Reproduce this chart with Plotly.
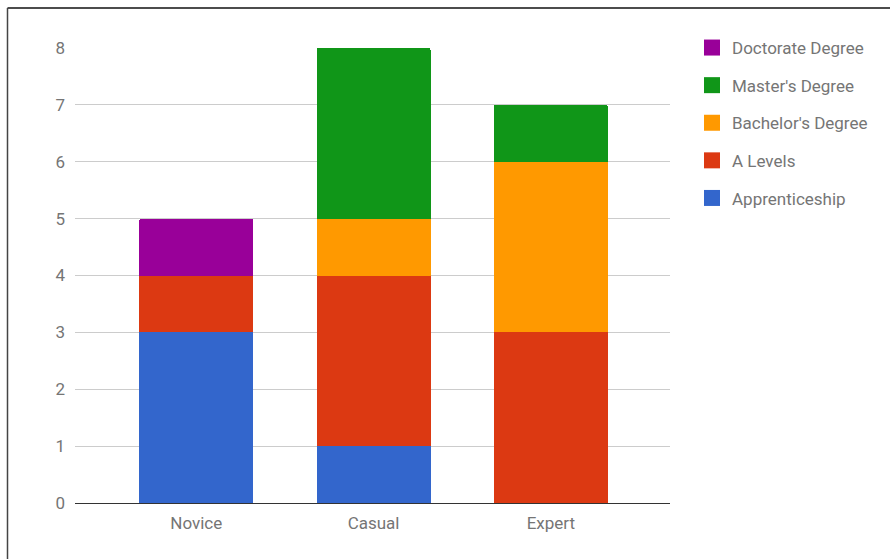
import plotly.graph_objects as go

categories = ["Novice", "Casual", "Expert"]
series_names = ["Apprenticeship", "A Levels", "Bachelor's Degree", "Master's Degree", "Doctorate Degree"]
apprenticeship = [3, 1, 0]
a_levels = [1, 3, 3]
bachelors = [0, 1, 3]
masters = [0, 3, 1]
doctorate = [1, 0, 0]
series_values = [apprenticeship, a_levels, bachelors, masters, doctorate]
colors = ["#3366cc", "#dc3912", "#ff9900", "#109618", "#990099"]
y_ticks = [0, 1, 2, 3, 4, 5, 6, 7, 8]

W, H = 890, 559
L, R, T, B = 75, 220, 48, 56
pw, ph = W - L - R, H - T - B

fig = go.Figure()
for name, vals, col in zip(series_names, series_values, colors):
    fig.add_trace(go.Bar(
        x=[0, 1, 2], y=vals, name=name,
        marker=dict(color=col, line=dict(width=0)),
        width=0.643, showlegend=False, legendgroup=name,
    ))
# legend entries with larger square swatches (top of stack listed first)
n = len(series_names)
for i, (name, col) in enumerate(zip(series_names, colors)):
    fig.add_trace(go.Scatter(
        x=[None], y=[None], mode="markers", name=name, legendgroup=name,
        marker=dict(symbol="square", size=17, color=col),
        showlegend=True, legendrank=n - i,
    ))

def px2x(px):
    return (px - L) / pw

def px2y(py):
    return (H - B - py) / ph

fig.update_layout(
    width=W, height=H,
    margin=dict(l=L, r=R, t=T, b=B),
    barmode="stack",
    barcornerradius=2,
    plot_bgcolor="white",
    paper_bgcolor="white",
    font=dict(family="Roboto", size=17, color="#757575"),
    xaxis=dict(
        range=[-0.684, 2.672],
        tickmode="array", tickvals=[0, 1, 2], ticktext=categories,
        showgrid=False, zeroline=False, showline=False,
        ticks="", ticklabelstandoff=8,
        fixedrange=True,
    ),
    yaxis=dict(
        range=[0, 8],
        tickmode="array", tickvals=y_ticks, ticktext=[str(v) for v in y_ticks],
        showgrid=True, gridcolor="#cccccc", gridwidth=1,
        zeroline=True, zerolinecolor="#333333", zerolinewidth=1,
        showline=False, ticks="", ticklabelstandoff=9,
    ),
    legend=dict(
        traceorder="grouped",
        x=px2x(692), xanchor="left",
        y=px2y(30), yanchor="top",
        bgcolor="rgba(0,0,0,0)",
        font=dict(family="Roboto", size=17, color="#757575"),
        tracegroupgap=12.5,
        itemwidth=30,
    ),
    shapes=[
        dict(type="line", xref="paper", yref="paper",
             x0=px2x(7.5), x1=px2x(895), y0=px2y(8), y1=px2y(8),
             line=dict(color="#111111", width=1.5)),
        dict(type="line", xref="paper", yref="paper",
             x0=px2x(7.5), x1=px2x(7.5), y0=px2y(8), y1=px2y(565),
             line=dict(color="#444444", width=1.5)),
    ],
)

fig.write_html("out.html")
